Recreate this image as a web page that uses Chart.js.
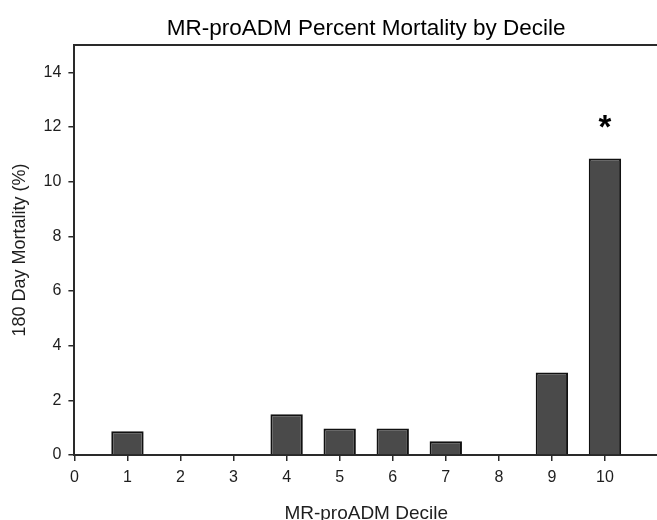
<!DOCTYPE html>
<html>
<head>
<meta charset="utf-8">
<script src="https://cdn.jsdelivr.net/npm/chart.js@4/dist/chart.umd.min.js"></script>
<style>
  html, body { margin: 0; padding: 0; background: #fff; overflow: hidden; }
  #wrap { width: 670px; height: 528px; }
</style>
</head>
<body>
<div id="wrap"><canvas id="chartDecile"></canvas></div>
<script>
    // deciles and 180 day mortality (%)
    const deciles = [1, 2, 3, 4, 5, 6, 7, 8, 9, 10];
    const mortality = [0.87, 0, 0, 1.49, 0.97, 0.97, 0.5, 0, 3.02, 10.85];
    const yTicks = [0, 2, 4, 6, 8, 10, 12, 14];
    const xTicks = [0, 1, 2, 3, 4, 5, 6, 7, 8, 9, 10];
    const starDecile = 10;

    const font = 'Liberation Sans, Arial, Helvetica, sans-serif';
    const ink = '#1e1e1e';

    // top/right frame lines and the significance star
    const framePlugin = {
        id: 'frame',
        afterDraw(chart) {
            const { ctx, chartArea: a } = chart;
            ctx.save();
            ctx.strokeStyle = '#2a2a2a';
            ctx.lineWidth = 2;
            ctx.beginPath();
            ctx.moveTo(a.left, a.top);
            ctx.lineTo(a.right, a.top);
            ctx.lineTo(a.right, a.bottom);
            ctx.stroke();

            const idx = deciles.indexOf(starDecile);
            const bar = chart.getDatasetMeta(0).data[idx];
            ctx.fillStyle = '#000';
            ctx.font = 'bold 33px ' + font;
            ctx.textAlign = 'center';
            ctx.textBaseline = 'alphabetic';
            ctx.fillText('*', bar.x, bar.y - 20);
            ctx.restore();
        }
    };

    new Chart(document.getElementById('chartDecile'), {
        type: 'bar',
        data: {
            datasets: [{
                label: '180 Day Mortality (%)',
                data: deciles.map((d, i) => ({ x: d, y: mortality[i] })),
                backgroundColor: '#4a4a4a',
                borderColor: '#111',
                borderWidth: 2,
                borderSkipped: 'bottom',
                categoryPercentage: 1,
                barPercentage: 0.61
            }]
        },
        options: {
            responsive: true,
            maintainAspectRatio: false,
            animation: false,
            layout: { padding: { top: 0, right: 12, bottom: 3, left: 0 } },
            plugins: {
                legend: { display: false },
                tooltip: { enabled: false },
                title: {
                    display: true,
                    text: 'MR-proADM Percent Mortality by Decile',
                    fullSize: false,
                    color: '#000',
                    font: { family: font, size: 22.5, weight: 'normal' },
                    padding: { top: 15, bottom: 3 }
                }
            },
            scales: {
                x: {
                    type: 'linear',
                    min: 0,
                    max: 11,
                    offset: false,
                    afterBuildTicks: (s) => { s.ticks = xTicks.map(v => ({ value: v })); },
                    grid: { display: true, drawOnChartArea: false, drawTicks: true, tickLength: 6, tickColor: '#2a2a2a', lineWidth: 1.5, offset: false },
                    border: { display: true, color: '#2a2a2a', width: 2 },
                    ticks: { color: ink, padding: 7, font: { family: font, size: 16 }, maxRotation: 0 },
                    title: {
                        display: true,
                        text: 'MR-proADM Decile',
                        color: ink,
                        font: { family: font, size: 19 },
                        padding: { top: 8, bottom: 0 }
                    }
                },
                y: {
                    min: 0,
                    max: 15,
                    afterBuildTicks: (s) => { s.ticks = yTicks.map(v => ({ value: v })); },
                    grid: { display: true, drawOnChartArea: false, drawTicks: true, tickLength: 6, tickColor: '#2a2a2a', lineWidth: 1.5 },
                    border: { display: true, color: '#2a2a2a', width: 2 },
                    ticks: { color: ink, padding: 7, font: { family: font, size: 16 } },
                    title: {
                        display: true,
                        text: '180 Day Mortality (%)',
                        color: ink,
                        font: { family: font, size: 18 },
                        padding: { top: 9, bottom: 6 }
                    }
                }
            }
        },
        plugins: [framePlugin]
    });
</script>
</body>
</html>
